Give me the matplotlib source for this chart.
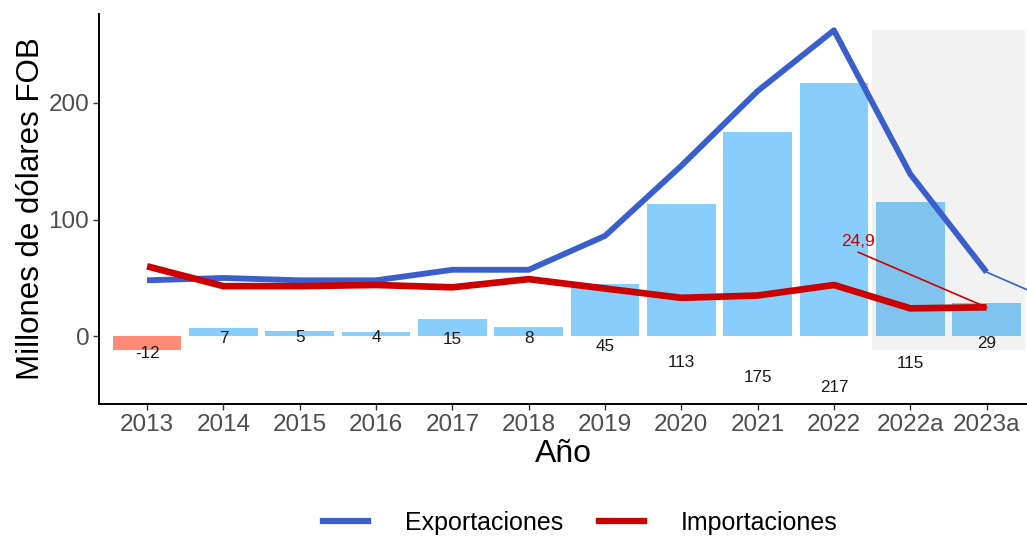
import numpy as np
import matplotlib.pyplot as plt
from matplotlib.lines import Line2D

plt.rcParams['font.family'] = ['Liberation Sans', 'DejaVu Sans']

years = ['2013', '2014', '2015', '2016', '2017', '2018', '2019', '2020',
         '2021', '2022', '2022a', '2023a']
exports = [48, 50, 48, 48, 57, 57, 86, 146, 210, 262, 139, 55]
imports = [60, 43, 43, 44, 42, 49, 41, 33, 35, 44, 24, 24.9]
balance = [-12, 7, 5, 4, 15, 8, 45, 113, 175, 217, 115, 29]

fig = plt.figure(figsize=(10.27, 5.36), dpi=100)
ax = fig.add_axes([0.0964, 0.246, 0.9036, 0.728])

x = np.arange(len(years))
bal = np.array(balance)
colors = ['#FF8A75' if v < 0 else '#87CEFA' for v in bal]
ax.bar(x, bal, width=0.9, color=colors, zorder=1)

# shaded projection area
ax.axvspan(9.5, 11.5, ymin=(-12 + 58) / 334, ymax=(262 + 58) / 334,
           color='black', alpha=0.05, lw=0, zorder=2)

for xi, v in zip(x, bal):
    ly = -0.2 * v if v > 0 else v - 2.6
    ax.text(xi, ly, f'{v}', ha='center', va='center', fontsize=12.3,
            color='#1a1a1a', zorder=3)

ax.plot(x, exports, color='#3A5FCD', lw=4.2, zorder=4, solid_capstyle='butt')
ax.plot(x, imports, color='#CC0000', lw=4.8, zorder=4, solid_capstyle='butt')

# annotations
ax.plot([11, 11.6], [55, 38], color='#3A5FCD', lw=1.2, zorder=4)
ax.plot([9.32, 11], [72, 24.9], color='#CC0000', lw=1.2, zorder=4)
ax.text(9.32, 75, '24,9', color='#CC0000', fontsize=12.5, ha='center',
        va='bottom', zorder=5)

ax.set_xlim(-0.63, 11.53)
ax.set_ylim(-58, 276)
ax.set_xticks(x)
ax.set_xticklabels(years)
ax.set_yticks([0, 100, 200])
ax.tick_params(axis='both', labelsize=17.5, labelcolor='#4D4D4D',
               color='#333333', length=4, width=1, pad=3)
for s in ['top', 'right']:
    ax.spines[s].set_visible(False)
for s in ['left', 'bottom']:
    ax.spines[s].set_linewidth(1.4)
ax.set_xlabel('Año', fontsize=23, labelpad=2)
ax.set_ylabel('Millones de dólares FOB', fontsize=22.5, labelpad=2)

handles = [Line2D([0], [0], color='#3A5FCD', lw=4.5),
           Line2D([0], [0], color='#CC0000', lw=4.5)]
fig.legend(handles, ['Exportaciones', 'Importaciones'], loc='center',
           bbox_to_anchor=(0.565, 0.024), ncol=2, frameon=False,
           fontsize=18, handlelength=1.8, columnspacing=1.4,
           handletextpad=1.5)

fig.savefig('out.png', dpi=100)
